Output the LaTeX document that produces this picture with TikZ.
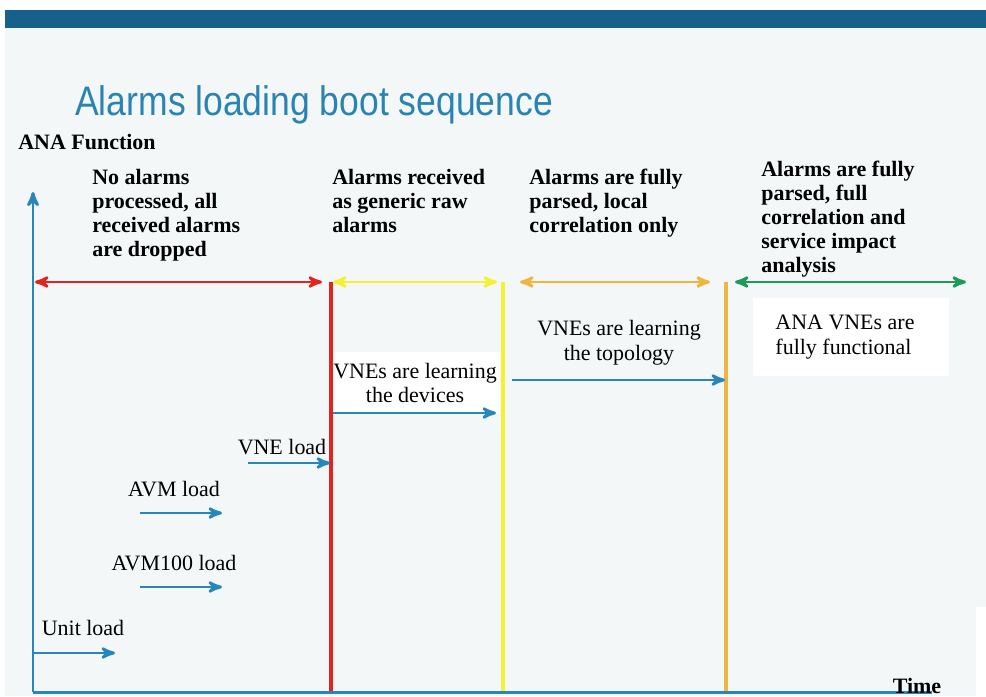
\documentclass[tikz,border=0pt]{standalone}
\usepackage{fontspec}
\setmainfont{Liberation Serif}
\newfontfamily\titlefont{Liberation Sans}
\usepackage{tikz}
\usetikzlibrary{arrows,positioning,backgrounds,calc}
\definecolor{barblue}{HTML}{16608A}
\definecolor{titleblue}{HTML}{2A84B2}
\definecolor{axisblue}{HTML}{2887BA}
\definecolor{pagebg}{HTML}{F4F7F8}
\definecolor{phred}{HTML}{E22320}
\definecolor{phyellow}{HTML}{F6F033}
\definecolor{phorange}{HTML}{F0B53E}
\definecolor{phgreen}{HTML}{1F9A57}
\newcommand{\hdrfont}{\fontsize{12.5}{13.6}\selectfont\bfseries}
\newcommand{\lblfont}{\fontsize{12.5}{14.2}\selectfont}

\begin{document}
\begin{tikzpicture}[x=0.02cm,y=-0.02cm,>=stealth',
     axis/.style={line width=1.7pt, axisblue},
     loadarrow/.style={->, line width=1.6pt, axisblue},
     phase/.style={<->, line width=1.6pt},
     border/.style={line width=2.2pt},
     hdr/.style={anchor=north west, inner sep=0pt, align=left, font=\hdrfont},
     lbl/.style={inner sep=1pt, align=center, font=\lblfont}]
    \useasboundingbox (0,0) rectangle (986,696);
    \fill[pagebg] (5,10) rectangle (986,696);
    \fill[barblue] (5,10) rectangle (986,28);
    \fill[white] (976,607) rectangle (986,696);

    \node[anchor=base west, inner sep=0pt, text=titleblue, xscale=0.86,
          font=\titlefont\fontsize{23.5}{26}\selectfont] (title) at (75,115) {Alarms loading boot sequence};
    \node[anchor=west, inner sep=0pt, font=\hdrfont] (anafn) at (18,142) {ANA Function};

    % phase headings
    \node[hdr] (h1) at (92,169) {No alarms\\processed, all\\received alarms\\are dropped};
    \node[hdr] (h2) at (332,169) {Alarms received\\as generic raw\\alarms};
    \node[hdr] (h3) at (529,169) {Alarms are fully\\parsed, local\\correlation only};
    \node[hdr] (h4) at (761,161) {Alarms are fully\\parsed, full\\correlation and\\service impact\\analysis};

    % white text box sits under the borders
    \node[lbl, fill=white, inner xsep=2pt, inner ysep=6pt] (dev) at (415,383) {VNEs are learning\\the devices};

    % phase borders
    \coordinate (b1t) at (331,282); \coordinate (b1b) at (331,692);
    \coordinate (b2t) at (503,282); \coordinate (b2b) at (503,692);
    \coordinate (b3t) at (726,282); \coordinate (b3b) at (726,692);
    \draw[border, phred] (b1t) -- (b1b);
    \draw[border, phyellow] (b2t) -- (b2b);
    \draw[border, phorange] (b3t) -- (b3b);

    \coordinate (p1a) at (35,282);  \coordinate (p1b) at (322,282);
    \coordinate (p2a) at (333,282); \coordinate (p2b) at (497,282);
    \coordinate (p3a) at (520,282); \coordinate (p3b) at (710,282);
    \coordinate (p4a) at (735,282); \coordinate (p4b) at (966,282);
    \draw[phase, phred] (p1a) -- (p1b);
    \draw[phase, phyellow] (p2a) -- (p2b);
    \draw[phase, phorange] (p3a) -- (p3b);
    \draw[phase, phgreen] (p4a) -- (p4b);

    % axes
    \coordinate (origin) at (33,692);
    \coordinate (ytop) at (33,192);
    \coordinate (xend) at (932,692);
    \draw[axis, ->] (origin) -- (ytop);
    \draw[axis] (origin) -- (xend);
    \node[inner sep=0pt, font=\hdrfont] (time) at (917,686) {Time};

    % loading steps
    \node[lbl] (unit) at (83,628) {Unit load};
    \node[lbl] (avmh) at (174,563) {AVM100 load};
    \node[lbl] (avm) at (174,489) {AVM load};
    \node[lbl] (vne) at (282,447) {VNE load};
    \node[lbl] (topo) at (619,343) {VNEs are learning\\the topology};
    \node[lbl, fill=white, align=flush left, text width=86pt, inner xsep=13pt,
          minimum height=44.8pt] (ready) at (851,337) {ANA VNEs are\\fully functional};

    \coordinate (unit-s) at (33,653);  \coordinate (unit-e) at (115,653);
    \coordinate (avmh-s) at (140,587); \coordinate (avmh-e) at (222,587);
    \coordinate (avm-s) at (140,513);  \coordinate (avm-e) at (222,513);
    \coordinate (vne-s) at (248,463);  \coordinate (vne-e) at (330,463);
    \coordinate (dev-s) at (333,413);  \coordinate (dev-e) at (496,413);
    \coordinate (topo-s) at (512,380); \coordinate (topo-e) at (725,380);
    \foreach \step in {unit,avmh,avm,vne,dev,topo}
      \draw[loadarrow] (\step-s) -- (\step-e);
\end{tikzpicture}
\end{document}
